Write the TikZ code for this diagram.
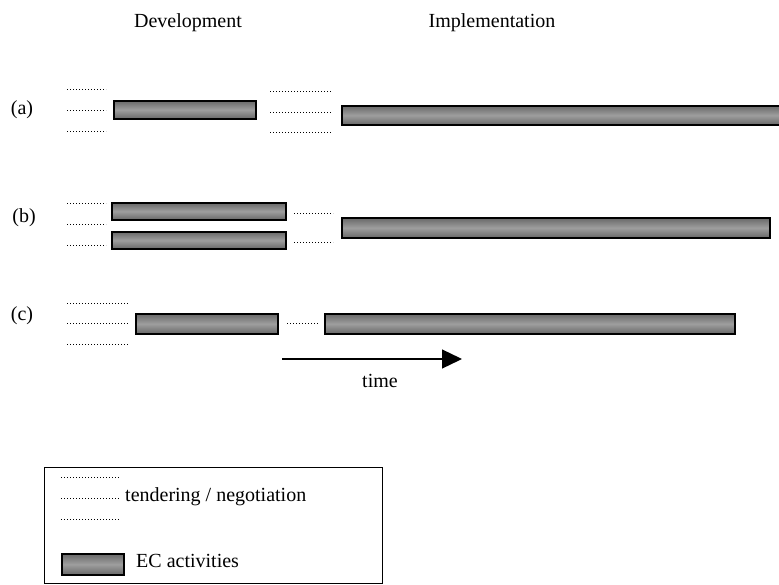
\documentclass[tikz,border=0pt]{standalone}
\usepackage{fontspec}
\setmainfont{Liberation Serif}
\usetikzlibrary{arrows.meta}
% dark edges, lighter band in the middle
\pgfdeclareverticalshading{ecshade}{100bp}{
  color(0bp)=(black!75); color(30bp)=(black!55); color(50bp)=(black!38);
  color(70bp)=(black!55); color(100bp)=(black!75)}
\tikzset{
  bar/.style={draw=black, line width=1.6pt, anchor=north west, inner sep=0pt,
    shading=ecshade},
  dots/.style={line width=0.9pt, dash pattern=on 0.9pt off 2.1pt},
  lbl/.style={font=\fontsize{20}{24}\selectfont, inner sep=0pt},
}
\newcommand{\ecbar}[5]{% name, x, y, width, height
  \node[bar, minimum width=#4pt, minimum height=#5pt] (#1) at (#2,#3) {};}
\begin{document}
\begin{tikzpicture}[x=1pt,y=-1pt]
\useasboundingbox (0,0) rectangle (779,584);
\clip (0,0) rectangle (779,584);

% phase headings
\node[lbl] (dev) at (188,23) {Development};
\node[lbl] (impl) at (492,23) {Implementation};

% row (a)
\node[lbl] (la) at (22,110) {(a)};
\foreach \y in {89,110,131} \draw[dots] (67,\y) -- (106,\y);
\ecbar{a1}{113}{100}{142}{18}
\foreach \y in {91,112,132} \draw[dots] (270,\y) -- (331,\y);
\ecbar{a2}{341}{105}{446}{19}

% row (b)
\node[lbl] (lb) at (24,218) {(b)};
\foreach \y in {203,224,245} \draw[dots] (67,\y) -- (106,\y);
\ecbar{b1}{111}{202}{174}{17}
\ecbar{b2}{111}{231}{174}{17}
\foreach \y in {213,242} \draw[dots] (294,\y) -- (333,\y);
\ecbar{b3}{341}{217}{428}{20}

% row (c)
\node[lbl] (lc) at (22,316) {(c)};
\foreach \y in {303,323,344} \draw[dots] (67,\y) -- (128,\y);
\ecbar{c1}{135}{313}{142}{20}
\draw[dots] (287,323) -- (318,323);
\ecbar{c2}{324}{313}{410}{20}

% time axis
\coordinate (t0) at (282,359);
\coordinate (t1) at (462,359);
\draw[line width=1.3pt, -{Triangle[length=20pt,width=19pt]}] (t0) -- (t1);
\node[lbl] (time) at (380,381) {time};

% legend
\node[draw=black, line width=1.1pt, minimum width=338pt, minimum height=116pt,
      anchor=north west, inner sep=0pt] (legend) at (44,467) {};
\foreach \y in {477,498,519} \draw[dots] (61,\y) -- (120,\y);
\node[lbl, anchor=west] (tend) at (125,497) {tendering / negotiation};
\ecbar{lgbar}{61}{553}{62}{21}
\node[lbl, anchor=west] (ec) at (136,561) {EC activities};
\end{tikzpicture}
\end{document}
